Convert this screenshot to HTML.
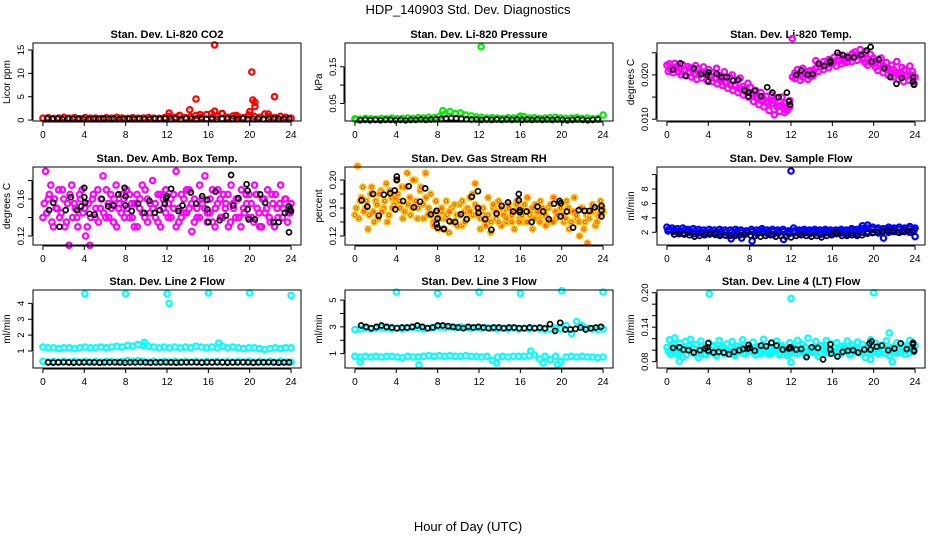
<!DOCTYPE html>
<html><head><meta charset="utf-8"><style>
html,body{margin:0;padding:0;background:#fff}
svg{display:block;font-family:"Liberation Sans",sans-serif}
</style></head><body>
<svg id="chart" width="936" height="540" viewBox="0 0 936 540">
<text x="468" y="14" text-anchor="middle" font-size="13">HDP_140903  Std. Dev. Diagnostics</text>
<text x="468" y="531" text-anchor="middle" font-size="13">Hour of Day (UTC)</text>
</svg>
<script>
// ---------- data ----------
const xTicks = [0,4,8,12,16,20,24];
const co2Red = [0.4,0.5,0.35,0.45,0.6,0.4,0.5,0.3,0.55,0.4,0.45,0.35,0.5,0.4,0.6,0.45,0.35,0.5,0.4,0.45,0.55,0.4,0.35,0.5,0.8,0.6,0.9,0.5,0.7,1.0,0.6,1.2,0.5,0.8,1.4,0.6,0.9,0.7,0.5,1.1,0.8,0.6,1.3,0.7,0.5,0.8,0.6,0.4];
const co2Blk = [0.3,0.25,0.3,0.2,0.3,0.25,0.3,0.25,0.2,0.3,0.25,0.3,0.25,0.3,0.2,0.25,0.3,0.25,0.3,0.25,0.2,0.3,0.25,0.3,0.25,0.3,0.2,0.3,0.25,0.3,0.25,0.3,0.2,0.25,0.3,0.25,0.3,0.2,0.3,0.25,0.3,0.25,0.2,0.3,0.25,0.3,0.25,0.3];
const co2OutT = [16.6,20.2,14.8,14.2,20.3,20.5,20.5,22.4,12.2,16.3,16.6,17.3,20.0,15.2,21.8,18.7,13.2];
const co2OutV = [16.1,10.3,4.5,2.2,4.3,3.8,2.9,5.0,1.5,1.4,1.9,1.4,1.8,1.2,1.3,1.0,1.0];

const presGrn = [0.008,0.007,0.009,0.008,0.007,0.009,0.008,0.010,0.008,0.009,0.010,0.009,0.011,0.010,0.012,0.011,0.015,0.020,0.028,0.022,0.024,0.018,0.016,0.013,0.012,0.010,0.011,0.010,0.009,0.011,0.010,0.012,0.014,0.010,0.011,0.009,0.010,0.011,0.012,0.010,0.009,0.010,0.011,0.009,0.010,0.008,0.009,0.018];
const presBlk = [0.004,0.005,0.004,0.005,0.004,0.005,0.005,0.004,0.005,0.004,0.005,0.005,0.006,0.005,0.006,0.007,0.008,0.009,0.010,0.009,0.008,0.007,0.006,0.006,0.005,0.006,0.005,0.006,0.005,0.006,0.005,0.006,0.005,0.006,0.005,0.006,0.005,0.006,0.005,0.006,0.005,0.004,0.005,0.006,0.005,0.004,0.005,0.006];
const presOutT = [12.2,0.1,16.0,8.5];
const presOutV = [0.205,0.006,0.015,0.03];

const temA = [.0222,.0225,.0218,.0226,.0220,.0215,.0223,.0212,.0219,.0216,.0210,.0221,.0214,.0208,.0218,.0203,
.0212,.0196,.0205,.0215,.0199,.0190,.0207,.0183,.0195,.0200,.0178,.0188,.0193,.0174,.0168,.0181,
.0172,.0158,.0165,.0150,.0160,.0145,.0152,.0138,.0155,.0143,.0148,.0130,.0150,.0137,.0125,.0142,
.0282,.0205,.0212,.0198,.0215,.0203,.0208,.0196,.0210,.0232,.0225,.0218,.0230,.0222,.0235,.0228,
.0240,.0233,.0245,.0237,.0230,.0242,.0236,.0248,.0252,.0244,.0257,.0240,.0250,.0235,.0246,.0238,
.0232,.0225,.0238,.0220,.0228,.0215,.0222,.0210,.0230,.0205,.0217,.0212,.0200,.0220,.0208,.0195];
const temB = [.0208,.0212,.0205,.0215,.0207,.0200,.0210,.0198,.0204,.0195,.0202,.0190,.0200,.0193,.0205,.0188,
.0198,.0185,.0192,.0180,.0188,.0176,.0183,.0170,.0178,.0165,.0175,.0160,.0168,.0155,.0162,.0150,
.0158,.0140,.0148,.0133,.0142,.0128,.0138,.0120,.0135,.0110,.0128,.0118,.0132,.0115,.0120,.0128,
.0195,.0192,.0200,.0188,.0195,.0205,.0190,.0210,.0198,.0215,.0208,.0220,.0212,.0224,.0216,.0226,
.0228,.0220,.0232,.0225,.0236,.0228,.0238,.0230,.0240,.0233,.0243,.0235,.0228,.0222,.0230,.0225,
.0218,.0210,.0222,.0205,.0213,.0200,.0208,.0195,.0204,.0190,.0200,.0185,.0196,.0188,.0200,.0180];
const temBlkT = [0.6,1.3,1.8,2.6,3.3,3.9,4.0,4.0,4.8,5.3,5.8,6.4,6.9,7.5,7.9,7.9,8.5,9.1,9.7,10.2,10.8,11.6,11.8,11.9,12.5,13.0,13.6,14.1,14.7,15.2,15.8,15.8,16.5,17.0,17.5,18.1,18.8,19.3,19.7,19.8,20.5,21.0,21.6,22.2,22.7,23.8,23.8,23.9];
const temBlkV = [.0212,.0226,.0198,.0215,.0202,.0200,.0206,.0185,.0203,.0195,.0195,.0187,.0189,.0165,.0160,.0152,.0164,.0152,.0172,.0160,.0150,.0160,.0140,.0133,.0200,.0210,.0200,.0202,.0225,.0220,.0228,.0232,.0250,.0245,.0240,.0240,.0245,.0255,.0263,.0230,.0235,.0215,.0195,.0180,.0193,.0195,.0185,.0178];

const ambA = [0.14,0.19,0.16,0.175,0.13,0.15,0.17,0.145,0.16,0.135,0.11,0.175,0.155,0.14,0.165,0.17,
0.15,0.13,0.11,0.16,0.14,0.17,0.15,0.185,0.14,0.155,0.165,0.135,0.175,0.15,0.145,0.16,
0.17,0.14,0.155,0.13,0.165,0.15,0.175,0.14,0.16,0.145,0.18,0.155,0.135,0.165,0.15,0.17,
0.14,0.16,0.15,0.19,0.135,0.165,0.145,0.17,0.15,0.125,0.16,0.14,0.175,0.155,0.185,0.145,
0.16,0.135,0.15,0.17,0.14,0.165,0.155,0.13,0.175,0.15,0.16,0.14,0.17,0.145,0.155,0.165,
0.14,0.175,0.15,0.13,0.16,0.145,0.17,0.135,0.155,0.165,0.14,0.175,0.15,0.16,0.145,0.155];
const ambB = [0.155,0.145,0.165,0.135,0.16,0.15,0.14,0.17,0.13,0.155,0.165,0.14,0.15,0.13,0.16,0.145,
0.12,0.155,0.14,0.165,0.15,0.135,0.16,0.145,0.17,0.14,0.15,0.16,0.13,0.155,0.165,0.14,
0.15,0.165,0.14,0.155,0.13,0.16,0.145,0.17,0.135,0.155,0.15,0.14,0.165,0.13,0.16,0.145,
0.155,0.14,0.165,0.13,0.15,0.14,0.16,0.145,0.17,0.155,0.135,0.15,0.14,0.16,0.15,0.135,
0.145,0.17,0.13,0.155,0.16,0.14,0.15,0.165,0.135,0.155,0.14,0.16,0.13,0.15,0.165,0.14,
0.155,0.135,0.165,0.145,0.13,0.16,0.15,0.14,0.165,0.13,0.15,0.155,0.14,0.16,0.135,0.145];
const ambBlkT = [0.6,1.0,1.6,2.2,2.7,3.3,3.7,4.0,4.0,4.1,4.5,5.0,5.7,6.3,6.8,7.3,7.9,8.0,8.0,8.6,9.2,9.8,10.3,10.8,11.3,11.8,11.9,12.0,12.4,13.1,13.5,14.3,14.8,15.4,15.9,15.9,16.0,16.7,17.1,17.7,18.2,18.4,18.9,19.7,19.8,19.8,19.9,20.5,21.0,21.5,22.3,22.8,23.4,23.8,23.9,23.8,24.0];
const ambBlkV = [0.148,0.156,0.13,0.148,0.162,0.148,0.152,0.172,0.162,0.156,0.144,0.143,0.16,0.152,0.153,0.165,0.172,0.163,0.153,0.147,0.155,0.145,0.158,0.145,0.148,0.155,0.161,0.163,0.171,0.147,0.153,0.167,0.155,0.163,0.159,0.149,0.135,0.168,0.137,0.142,0.186,0.153,0.161,0.176,0.169,0.149,0.138,0.138,0.165,0.156,0.135,0.135,0.145,0.152,0.149,0.124,0.147];

const rhA = [0.15,0.22,0.17,0.19,0.16,0.13,0.18,0.155,0.17,0.145,0.185,0.16,0.195,0.15,0.175,0.165,
0.2,0.17,0.19,0.155,0.21,0.175,0.16,0.2,0.145,0.185,0.165,0.21,0.15,0.18,0.14,0.17,
0.13,0.155,0.145,0.17,0.125,0.16,0.14,0.15,0.165,0.135,0.155,0.145,0.175,0.15,0.195,0.16,
0.13,0.15,0.14,0.175,0.125,0.16,0.145,0.17,0.135,0.155,0.14,0.165,0.15,0.13,0.17,0.145,
0.16,0.14,0.175,0.15,0.13,0.165,0.145,0.17,0.15,0.135,0.16,0.14,0.175,0.145,0.155,0.165,
0.14,0.17,0.13,0.155,0.175,0.145,0.12,0.16,0.14,0.11,0.155,0.165,0.135,0.15,0.17,0.155];
const rhB = [0.16,0.145,0.175,0.155,0.17,0.15,0.19,0.14,0.165,0.18,0.155,0.17,0.14,0.185,0.16,0.175,
0.18,0.16,0.145,0.19,0.165,0.15,0.2,0.17,0.16,0.19,0.145,0.175,0.16,0.15,0.135,0.155,
0.145,0.16,0.13,0.15,0.155,0.14,0.165,0.135,0.15,0.17,0.14,0.16,0.155,0.18,0.165,0.15,
0.145,0.16,0.135,0.15,0.14,0.165,0.155,0.14,0.16,0.15,0.145,0.16,0.14,0.155,0.165,0.14,
0.15,0.165,0.14,0.155,0.16,0.145,0.155,0.14,0.16,0.15,0.145,0.165,0.14,0.155,0.15,0.16,
0.15,0.145,0.16,0.14,0.155,0.15,0.14,0.16,0.13,0.15,0.145,0.155,0.16,0.14,0.15,0.16];
const rhBlkT = [0.65,1.2,1.75,2.3,2.8,3.4,3.85,4.05,4.05,3.9,4.65,5.2,5.7,6.3,6.8,7.35,7.9,7.9,8.0,8.0,8.6,9.15,9.7,10.25,10.8,11.3,11.9,11.9,11.95,12.6,13.2,13.7,14.2,14.8,15.3,15.85,15.85,15.95,15.95,16.6,17.1,17.65,18.2,18.75,19.25,19.8,19.9,19.9,20.5,21.1,21.65,22.2,22.7,23.2,23.85,23.85,23.85];
const rhBlkV = [0.171,0.162,0.18,0.149,0.179,0.181,0.185,0.205,0.2,0.158,0.17,0.191,0.161,0.169,0.188,0.151,0.156,0.137,0.132,0.145,0.13,0.141,0.14,0.151,0.144,0.176,0.184,0.16,0.153,0.144,0.129,0.152,0.163,0.168,0.155,0.18,0.171,0.157,0.154,0.155,0.14,0.162,0.155,0.144,0.166,0.17,0.167,0.148,0.155,0.132,0.157,0.156,0.156,0.161,0.163,0.157,0.148];

const sfUp = [2.7,2.6,2.5,2.6,2.4,2.5,2.4,2.3,2.4,2.3,2.4,2.3,2.3,2.4,2.3,2.2,2.4,2.3,2.5,2.3,2.4,2.3,2.4,2.2,2.6,2.3,2.4,2.3,2.4,2.3,2.4,2.3,2.3,2.4,2.3,2.5,2.4,2.9,3.0,2.7,2.6,2.5,2.7,2.6,2.7,2.6,2.8,2.6];
const sfMid = [2.4,2.3,2.2,2.3,2.1,2.2,2.1,2.0,2.1,2.0,2.1,2.0,2.0,2.1,2.0,2.0,2.1,2.0,2.2,2.0,2.1,2.0,2.1,2.0,2.2,2.0,2.1,2.0,2.1,2.0,2.1,2.0,2.0,2.1,2.0,2.2,2.1,2.5,2.6,2.4,2.3,2.2,2.4,2.3,2.4,2.3,2.5,2.3];
const sfLow = [2.2,2.1,2.0,1.9,2.0,1.8,1.9,1.8,1.9,1.7,1.8,1.6,1.1,1.8,1.2,1.9,0.8,1.8,1.9,1.8,1.7,1.9,1.0,1.8,1.9,1.8,1.9,1.8,1.9,1.7,1.9,1.8,1.8,1.9,1.8,1.9,1.8,2.0,2.1,2.0,1.9,1.2,2.0,2.1,2.0,2.1,2.0,1.4];
const sfBlk = [1.7,1.75,1.7,1.6,1.4,1.5,1.6,1.7,1.8,1.5,1.6,1.5,1.5,1.6,1.7,1.6,1.5,1.4,1.5,1.6,1.4,1.5,1.4,1.3,1.5,1.6,1.5,1.4,1.5,1.3,1.5,1.6,2.0,1.5,1.5,1.6,1.5,1.6,1.8,1.9,2.0,2.1,2.2,2.1,2.0,2.1,2.2,2.1];
const sfOutT = [12.0];
const sfOutV = [10.5];

const l2Up = [1.25,1.2,1.2,1.15,1.2,1.2,1.15,1.2,1.25,1.2,1.2,1.25,1.2,1.25,1.3,1.25,1.35,1.3,1.4,1.35,1.3,1.25,1.2,1.25,1.2,1.25,1.2,1.25,1.2,1.3,1.25,1.2,1.25,1.2,1.3,1.2,1.25,1.2,1.15,1.2,1.2,1.15,1.1,1.15,1.2,1.15,1.2,1.2];
const l2Low = [0.35,0.3,0.35,0.3,0.35,0.3,0.35,0.3,0.35,0.3,0.35,0.3,0.35,0.35,0.3,0.35,0.4,0.35,0.4,0.35,0.3,0.35,0.3,0.35,0.3,0.35,0.3,0.35,0.3,0.35,0.3,0.35,0.3,0.35,0.3,0.35,0.3,0.35,0.3,0.35,0.3,0.35,0.3,0.35,0.3,0.35,0.3,0.3];
const l2Blk = [0.28,0.27,0.28,0.29,0.28,0.27,0.28,0.28,0.29,0.28,0.27,0.28,0.28,0.29,0.28,0.27,0.28,0.28,0.29,0.28,0.27,0.28,0.28,0.29,0.28,0.27,0.28,0.28,0.29,0.28,0.27,0.28,0.28,0.29,0.28,0.27,0.28,0.28,0.29,0.28,0.27,0.28,0.28,0.29,0.28,0.27,0.28,0.28];
const l2OutT = [4.05,8.0,12.0,16.0,20.0,24.0,12.2,9.8,17.0];
const l2OutV = [4.6,4.6,4.6,4.65,4.65,4.5,4.0,1.55,1.5];

const l3Up = [2.8,2.85,2.9,2.85,2.9,2.95,2.9,2.85,2.9,2.85,2.9,2.95,2.9,2.85,2.9,2.95,3.0,2.95,3.0,2.95,3.0,2.95,2.9,2.95,2.9,2.95,2.9,2.85,2.9,2.85,2.9,2.85,2.9,2.85,2.9,2.85,2.8,2.85,2.9,2.85,3.1,2.5,3.4,3.1,2.9,2.85,2.8,2.85];
const l3Low = [0.8,0.75,0.8,0.75,0.8,0.75,0.8,0.8,0.75,0.7,0.8,0.75,0.75,0.8,0.85,0.8,0.85,0.8,0.85,0.8,0.8,0.85,0.8,0.8,0.75,0.8,0.5,0.75,0.8,0.75,0.8,0.8,0.8,0.85,0.9,0.6,0.8,0.55,0.8,0.4,0.75,0.8,0.75,0.8,0.75,0.75,0.7,0.75];
const l3Blk = [3.1,3.0,2.9,3.0,3.1,3.0,2.95,2.9,2.95,2.95,3.0,3.1,3.0,2.9,2.95,3.1,3.1,3.05,3.0,2.95,2.9,3.0,2.95,3.0,2.95,2.9,2.95,2.95,2.9,2.95,2.95,2.9,2.9,2.95,2.9,2.95,2.9,3.2,2.7,3.3,2.8,2.8,2.85,2.95,2.8,2.9,2.95,3.0];
const l3OutT = [4.0,8.0,12.0,16.0,20.0,24.0,17.0,6.2,0.5,13.7,19.6,18.2];
const l3OutV = [5.6,5.5,5.6,5.5,5.7,5.6,1.2,0.15,0.4,0.3,0.2,0.3];

const l4A = [0.105,0.118,0.098,0.121,0.093,0.112,0.088,0.115,0.101,0.119,0.095,0.11,0.087,0.116,0.1,0.092,
0.113,0.097,0.108,0.09,0.117,0.103,0.094,0.111,0.098,0.115,0.091,0.107,0.099,0.118,0.094,0.109,
0.102,0.114,0.092,0.106,0.097,0.119,0.101,0.093,0.112,0.098,0.116,0.095,0.108,0.1,0.091,0.113,
0.106,0.095,0.117,0.099,0.11,0.092,0.121,0.102,0.096,0.115,0.089,0.108,0.1,0.117,0.094,0.111,
0.098,0.113,0.093,0.107,0.101,0.116,0.092,0.109,0.099,0.114,0.095,0.11,0.087,0.106,0.118,0.097,
0.112,0.094,0.108,0.102,0.116,0.091,0.105,0.099,0.113,0.096,0.11,0.093,0.107,0.117,0.1,0.108];
const l4B = [0.098,0.093,0.109,0.101,0.096,0.104,0.099,0.092,0.107,0.097,0.103,0.094,0.1,0.106,0.093,0.102,
0.099,0.106,0.094,0.103,0.098,0.107,0.095,0.1,0.104,0.093,0.101,0.097,0.105,0.095,0.102,0.098,
0.105,0.096,0.103,0.099,0.094,0.101,0.097,0.106,0.095,0.103,0.099,0.092,0.104,0.097,0.102,0.095,
0.099,0.104,0.094,0.101,0.097,0.106,0.095,0.1,0.103,0.097,0.102,0.094,0.105,0.098,0.101,0.096,
0.104,0.097,0.101,0.095,0.106,0.099,0.102,0.094,0.104,0.097,0.101,0.095,0.103,0.098,0.1,0.096,
0.101,0.105,0.096,0.1,0.094,0.103,0.098,0.104,0.095,0.101,0.097,0.103,0.099,0.095,0.104,0.098];
const l4BlkT = [0.6,1.2,1.6,2.1,2.6,3.2,3.7,3.9,4.0,4.0,4.5,5.0,5.5,6.0,6.5,7.0,7.4,7.8,7.9,8.0,8.5,9.1,9.6,10.1,10.6,11.2,11.8,11.9,12.0,12.5,13.0,13.5,14.0,14.6,15.1,15.8,15.8,15.9,16.5,17.0,17.5,18.0,18.5,19.1,19.6,19.7,19.8,20.3,20.8,21.4,22.0,22.6,23.2,23.8,23.8,23.9,23.9];
const l4BlkV = [0.104,0.105,0.101,0.1,0.096,0.1,0.103,0.105,0.112,0.099,0.096,0.097,0.096,0.093,0.097,0.1,0.102,0.103,0.109,0.104,0.099,0.108,0.107,0.113,0.108,0.101,0.103,0.105,0.104,0.101,0.102,0.088,0.105,0.104,0.084,0.101,0.11,0.094,0.089,0.097,0.099,0.1,0.096,0.101,0.112,0.101,0.115,0.106,0.108,0.1,0.103,0.112,0.102,0.113,0.11,0.098,0.1];
const l4OutT = [4.1,12.0,20.0,21.5,1.2,12.0,19.7,21.8];
const l4OutV = [0.198,0.19,0.2,0.13,0.081,0.079,0.084,0.08];

// ---------- layout ----------
const NS = 'http://www.w3.org/2000/svg';
const svg = document.getElementById('chart');
const colL = [33,345,657], rowT = [43,167,290], PW = 268, PH = 78;
const RED='#ff0000', GRN='#00ee00', MAG='#ff00ff', ORG='#ffc000', BLU='#0000ff', CYN='#00ffff', BLK='#000000';

function span(n, a, b){ const o=[]; for(let i=0;i<n;i++) o.push(a+(b-a)*i/(n-1)); return o; }

const panels = [
 {name:'co2', title:'Stan. Dev. Li-820 CO2', ylab:'Licor ppm', ylim:[-0.2,16.5], ticks:[0,5,10,15], labels:['0','5','10','15'],
  series:[[span(48,0,24),co2Red,RED],[co2OutT,co2OutV,RED],[span(48,0.4,23.8),co2Blk,BLK]]},
 {name:'pressure', title:'Stan. Dev. Li-820 Pressure', ylab:'kPa', ylim:[0.002,0.215], ticks:[0.05,0.1,0.15], labels:['0.05','','0.15'],
  series:[[span(48,0,24),presGrn,GRN],[presOutT,presOutV,GRN],[span(48,0.5,23.5),presBlk,BLK]]},
 {name:'temp', title:'Stan. Dev. Li-820 Temp.', ylab:'degrees C', ylim:[0.0096,0.0272], ticks:[0.010,0.015,0.020,0.025], labels:['0.010','','0.020',''],
  series:[[span(96,0,24),temA,MAG],[span(96,0.12,23.9),temB,MAG],[temBlkT,temBlkV,BLK]]},
 {name:'amb-box-temp', title:'Stan. Dev. Amb. Box Temp.', ylab:'degrees C', ylim:[0.1103,0.1946], ticks:[0.12,0.14,0.16,0.18], labels:['0.12','','0.16',''],
  series:[[span(96,0,24),ambA,MAG],[span(96,0.12,23.9),ambB,MAG],[ambBlkT,ambBlkV,BLK]]},
 {name:'gas-rh', title:'Stan. Dev. Gas Stream RH', ylab:'percent', ylim:[0.1071,0.2186], ticks:[0.12,0.14,0.16,0.18,0.20], labels:['0.12','','0.16','','0.20'],
  series:[[span(96,0,24),rhA,ORG],[span(96,0.12,23.9),rhB,ORG],[rhBlkT,rhBlkV,BLK]]},
 {name:'sample-flow', title:'Stan. Dev. Sample Flow', ylab:'ml/min', ylim:[0.24,11.05], ticks:[2,4,6,8,10], labels:['2','4','6','8',''],
  series:[[span(48,0,24),sfUp,BLU],[span(48,0.2,23.9),sfMid,BLU],[span(48,0.1,24),sfLow,BLU],[sfOutT,sfOutV,BLU],[span(48,0.7,23.8),sfBlk,BLK]]},
 {name:'line2-flow', title:'Stan. Dev. Line 2 Flow', ylab:'ml/min', ylim:[-0.07,4.84], ticks:[1,2,3,4], labels:['1','2','3','4'],
  series:[[span(48,0,24),l2Up,CYN],[span(48,0,24),l2Low,CYN],[l2OutT,l2OutV,CYN],[span(48,0.5,23.8),l2Blk,BLK]]},
 {name:'line3-flow', title:'Stan. Dev. Line 3 Flow', ylab:'ml/min', ylim:[-0.07,5.75], ticks:[1,2,3,4,5], labels:['1','','3','','5'],
  series:[[span(48,0,24),l3Up,CYN],[span(48,0,24),l3Low,CYN],[l3OutT,l3OutV,CYN],[span(48,0.6,23.8),l3Blk,BLK]]},
 {name:'line4-flow', title:'Stan. Dev. Line 4 (LT) Flow', ylab:'ml/min', ylim:[0.069,0.2047], ticks:[0.08,0.10,0.12,0.14,0.16,0.18,0.20], labels:['0.08','','','0.14','','','0.20'],
  series:[[span(96,0,24),l4A,CYN],[span(96,0.12,23.9),l4B,CYN],[l4OutT,l4OutV,CYN],[l4BlkT,l4BlkV,BLK]]}
];

function mk(tag, attrs, parent){ const e=document.createElementNS(NS,tag); for(const k in attrs) e.setAttribute(k,attrs[k]); parent.appendChild(e); return e; }

panels.forEach((p, idx) => {
  const L = colL[idx%3], T = rowT[Math.floor(idx/3)];
  const g = mk('g', {}, svg);
  
  
  const xs = h => L + PW*(h+0.96)/25.92;
  const ys = v => T + PH*(1-(v-p.ylim[0])/(p.ylim[1]-p.ylim[0]));
  const tt = mk('text', {x:L+PW/2, y:T-5, 'text-anchor':'middle', 'font-size':11, 'font-weight':'bold'}, g);
  tt.textContent = p.title;
  
  
  const yt = mk('text', {x:0, y:0, 'text-anchor':'middle', 'font-size':10, transform:`translate(${L-23},${T+PH/2}) rotate(-90)`}, g);
  yt.textContent = p.ylab;
  
  
  const marks = mk('g', {fill:'none'}, g);
  p.series.forEach((s) => {
    const [tArr, vArr, col] = s;
    const isBlk = col===BLK;
    for (let i=0;i<vArr.length;i++){
      const c = mk('circle', {cx:xs(tArr[i]).toFixed(1), cy:ys(vArr[i]).toFixed(1), r:isBlk?2.5:2.7, stroke:col, 'stroke-width':isBlk?1.7:2.2}, marks);
      
      
      if (col===ORG) mk('circle', {cx:xs(tArr[i]).toFixed(1), cy:ys(vArr[i]).toFixed(1), r:1.4, stroke:'#ff2000', 'stroke-width':0.8}, marks);
    }
  });
  const box = mk('rect', {x:L, y:T, width:PW, height:PH, fill:'none', stroke:'#000', 'stroke-width':1}, g);
  
  
  const xa = mk('g', {'font-size':10, 'text-anchor':'middle'}, g);
  
  
  mk('line', {x1:xs(0), x2:xs(24), y1:T+PH+1, y2:T+PH+1, stroke:'#000'}, xa);
  xTicks.forEach(h => {
    mk('line', {x1:xs(h), x2:xs(h), y1:T+PH+1, y2:T+PH+5, stroke:'#000'}, xa);
    const tl = mk('text', {x:xs(h), y:T+PH+17}, xa);
    tl.textContent = h;
  });
  const ya = mk('g', {'font-size':9.5, 'text-anchor':'middle'}, g);
  
  
  mk('line', {x1:L-1, x2:L-1, y1:ys(p.ticks[0]), y2:ys(p.ticks[p.ticks.length-1]), stroke:'#000'}, ya);
  p.ticks.forEach((v, i) => {
    mk('line', {x1:L-5, x2:L-1, y1:ys(v), y2:ys(v), stroke:'#000'}, ya);
    if (p.labels[i]) {
      const tl = mk('text', {x:0, y:0, transform:`translate(${L-9},${ys(v)}) rotate(-90)`}, ya);
      tl.textContent = p.labels[i];
    }
  });
});
</script>
</body></html>
